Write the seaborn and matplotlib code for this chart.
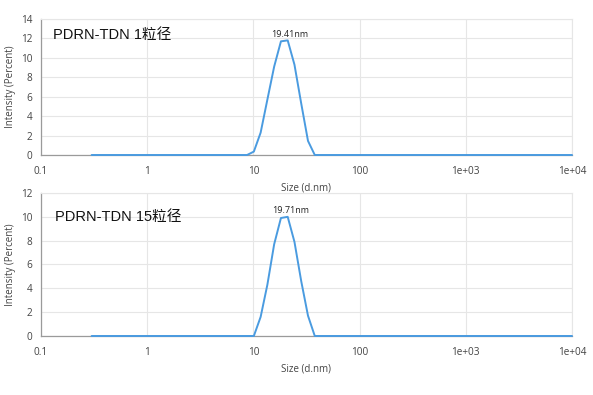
import matplotlib
matplotlib.use("Agg")
import matplotlib.pyplot as plt
import seaborn as sns
import pandas as pd

sizes = [0.3, 8.721, 10.1, 11.7, 13.54, 15.69, 18.17, 21.04, 24.36, 28.21, 32.67, 37.84, 10000]
intensity_1 = [0, 0, 0.35, 2.3, 5.7, 9.1, 11.7, 11.8, 9.3, 5.3, 1.45, 0, 0]
intensity_15 = [0, 0, 0, 1.6, 4.3, 7.7, 9.9, 10.0, 7.9, 4.6, 1.7, 0, 0]
titles = ["PDRN-TDN 1粒径", "PDRN-TDN 15粒径"]
peak_labels = ["19.41nm", "19.71nm"]
peak_sizes = [19.41, 19.71]
y_max = [14, 12]
x_ticks = [0.1, 1, 10, 100, 1000, 10000]
x_tick_labels = ["0.1", "1", "10", "100", "1e+03", "1e+04"]

sns.set_style("white")
plt.rcParams['font.family'] = ['Open Sans', 'Noto Sans CJK SC', 'DejaVu Sans']

fig = plt.figure(figsize=(5.93, 3.95), dpi=100)
ax_pos = [[0.0691, 0.6076, 0.8955, 0.3443], [0.0691, 0.1494, 0.8955, 0.3620]]
title_pos = [(0.022, 0.935), (0.027, 0.88)]
line_color = "#4a9be0"
grid_color = "#e6e6e6"
text_color = "#444444"

for i, yvals in enumerate([intensity_1, intensity_15]):
    ax = fig.add_axes(ax_pos[i])
    df = pd.DataFrame({"size": sizes, "intensity": yvals})
    sns.lineplot(data=df, x="size", y="intensity", ax=ax, color=line_color, lw=1.4)
    for ln in ax.lines:
        ln.set_zorder(5)
        ln.set_clip_on(False)
    ax.set_xscale("log")
    ax.set_xlim(0.1, 10000)
    ax.set_ylim(0, y_max[i])
    ax.set_xticks(x_ticks)
    ax.set_xticklabels(x_tick_labels)
    ax.minorticks_off()
    ax.set_yticks(range(0, y_max[i] + 1, 2))
    ax.grid(True, color=grid_color, lw=0.8)
    ax.set_axisbelow(True)
    ax.tick_params(axis="both", labelsize=7.2, colors="#888888", labelcolor=text_color,
                   length=3, width=0.8, direction="out", pad=3)
    ax.tick_params(axis="x", pad=5)
    for s in ["top", "right"]:
        ax.spines[s].set_color(grid_color)
        ax.spines[s].set_linewidth(0.8)
    for s in ["left", "bottom"]:
        ax.spines[s].set_color("#9a9a9a")
        ax.spines[s].set_linewidth(0.9)
    ax.set_xlabel("Size (d.nm)", fontsize=7, color=text_color, labelpad=4)
    ax.set_ylabel("Intensity (Percent)", fontsize=7, color=text_color, labelpad=4)
    ax.text(title_pos[i][0], title_pos[i][1], titles[i], transform=ax.transAxes, fontsize=10.5,
            color="#111111", ha="left", va="top",
            family=['Liberation Sans', 'Noto Sans CJK SC'])
    peak_y = max(yvals)
    ax.annotate(peak_labels[i], xy=(peak_sizes[i], peak_y), xytext=(4, 1),
                textcoords="offset points", ha="center", va="bottom",
                fontsize=6.5, color="#222222")

fig.savefig("out.png", dpi=100)
